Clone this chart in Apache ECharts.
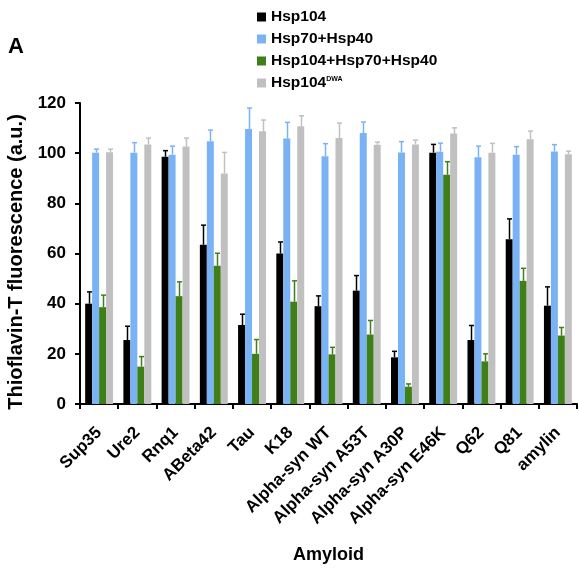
<!DOCTYPE html>
<html>
<head>
<meta charset="utf-8">
<script src="https://cdn.jsdelivr.net/npm/echarts@6/dist/echarts.min.js"></script>
<style>
html,body{margin:0;padding:0;background:#fff;}
#chart{width:579px;height:572px;}
</style>
</head>
<body>
<div id="chart"></div>
<script>
const categories = ['Sup35','Ure2','Rnq1','ABeta42','Tau','K18','Alpha-syn WT','Alpha-syn A53T','Alpha-syn A30P','Alpha-syn E46K','Q62','Q81','amylin'];
const seriesNames = ['Hsp104','Hsp70+Hsp40','Hsp104+Hsp70+Hsp40','Hsp104DWA'];
const hsp104 = [40, 25.5, 98.6, 63.5, 31.5, 60, 39, 45.2, 18.6, 100.2, 25.5, 65.7, 39.2];
const hsp104Err = [4.7, 5.5, 2.4, 7.8, 4.3, 4.6, 4.1, 6, 2.4, 3.3, 5.8, 8.1, 7.5];
const hsp70 = [100.2, 100.2, 99.4, 104.8, 109.6, 105.8, 98.8, 108, 100.3, 100.6, 98.4, 99.4, 100.7];
const hsp70Err = [1.4, 4, 3.4, 4.4, 8.4, 6.5, 5, 4.4, 4.3, 3.4, 4.4, 3.2, 2.7];
const combo = [38.6, 14.9, 43, 55.1, 20, 40.8, 19.8, 27.7, 6.9, 91.4, 17, 49.1, 27.3];
const comboErr = [4.8, 4, 5.7, 5, 5.7, 8.3, 2.8, 5.6, 1.1, 5.2, 3, 5, 3.2];
const dwa = [100.4, 103.5, 102.7, 91.9, 108.7, 110.7, 106, 103.4, 103.5, 107.8, 100.2, 105.5, 99.6];
const dwaErr = [1.2, 2.5, 3.3, 8.4, 4.5, 4.2, 6, 1, 1.7, 2.3, 3.7, 3.3, 1.2];
const yTicks = {min: 0, max: 120, interval: 20};

const colors = ['#000000', '#79b3f5', '#3f7f18', '#c0c0c0'];
const FONT = '"Liberation Sans", Arial, Helvetica, sans-serif';
const GAP = 0.27;
const values = [hsp104, hsp70, combo, dwa];
const errs = [hsp104Err, hsp70Err, comboErr, dwaErr];

function errRenderer(k, color) {
  return function (params, api) {
    const i = api.value(0), v = api.value(1), e = api.value(2);
    const band = api.size([1, 0])[0];
    const bw = band * (1 - GAP) / 4;
    const cx = Math.round(api.coord([i, 0])[0] + (k - 1.5) * bw) + 0.5;
    const y0 = api.coord([i, v])[1];
    const y1 = api.coord([i, v + e])[1];
    const st = {stroke: color, lineWidth: 1.5};
    return {type: 'group', children: [
      {type: 'line', shape: {x1: cx, y1: y0, x2: cx, y2: y1}, style: st},
      {type: 'line', shape: {x1: cx - 2.5, y1: y1, x2: cx + 2.5, y2: y1}, style: st}
    ]};
  };
}

const series = [];
values.forEach((vals, k) => {
  series.push({
    name: seriesNames[k], type: 'bar', data: vals,
    barGap: '0%', barCategoryGap: (GAP * 100) + '%',
    itemStyle: {color: colors[k]}, z: 2
  });
});
values.forEach((vals, k) => {
  series.push({
    name: seriesNames[k] + '_err', type: 'custom',
    data: vals.map((v, i) => [i, v, errs[k][i]]),
    encode: {x: 0, y: 1},
    renderItem: errRenderer(k, colors[k]), z: 3, silent: true
  });
});

const chart = echarts.init(document.getElementById('chart'), null, {renderer: 'canvas'});
chart.setOption({
  animation: false,
  backgroundColor: '#ffffff',
  textStyle: {fontFamily: FONT},
  graphic: [{type: 'text', left: 8, top: 36, style: {text: 'A', font: 'bold 22px ' + FONT, fill: '#000'}}],
  legend: {
    data: seriesNames, orient: 'vertical', left: 252, top: 4,
    itemWidth: 9, itemHeight: 9, itemGap: 6, icon: 'rect',
    textStyle: {fontFamily: FONT, fontWeight: 'bold', fontSize: 15.5, lineHeight: 15, color: '#000',
      rich: {s: {fontSize: 7, fontWeight: 'bold', verticalAlign: 'top', lineHeight: 15, fontFamily: FONT}}},
    formatter: function (n) { return n === 'Hsp104DWA' ? 'Hsp104{s|DWA}' : n; }
  },
  grid: {left: 80, right: 2, top: 103, bottom: 168, containLabel: false, outerBoundsMode: 'none'},
  xAxis: {
    type: 'category', data: categories,
    name: 'Amyloid', nameLocation: 'middle', nameGap: 142,
    nameTextStyle: {fontFamily: FONT, fontWeight: 'bold', fontSize: 18, color: '#000'},
    axisLine: {lineStyle: {color: '#000', width: 2}},
    axisTick: {show: true, alignWithLabel: false, length: 5, lineStyle: {color: '#000', width: 2}},
    axisLabel: {rotate: 45, interval: 0, margin: 26, padding: [14, 0, 0, 0], fontFamily: FONT, fontWeight: 'bold', fontSize: 17, color: '#000'}
  },
  yAxis: {
    type: 'value', min: yTicks.min, max: yTicks.max, interval: yTicks.interval,
    name: 'Thioflavin-T fluorescence (a.u.)', nameLocation: 'middle', nameGap: 53,
    nameTextStyle: {fontFamily: FONT, fontWeight: 'bold', fontSize: 20, color: '#000', padding: [0, 17, 0, 0]},
    axisLine: {show: true, lineStyle: {color: '#000', width: 2}},
    axisTick: {show: true, length: 5, lineStyle: {color: '#000', width: 2}},
    splitLine: {show: false},
    axisLabel: {margin: 14, fontFamily: FONT, fontWeight: 'bold', fontSize: 17, color: '#000'}
  },
  series: series
});
</script>
</body>
</html>
